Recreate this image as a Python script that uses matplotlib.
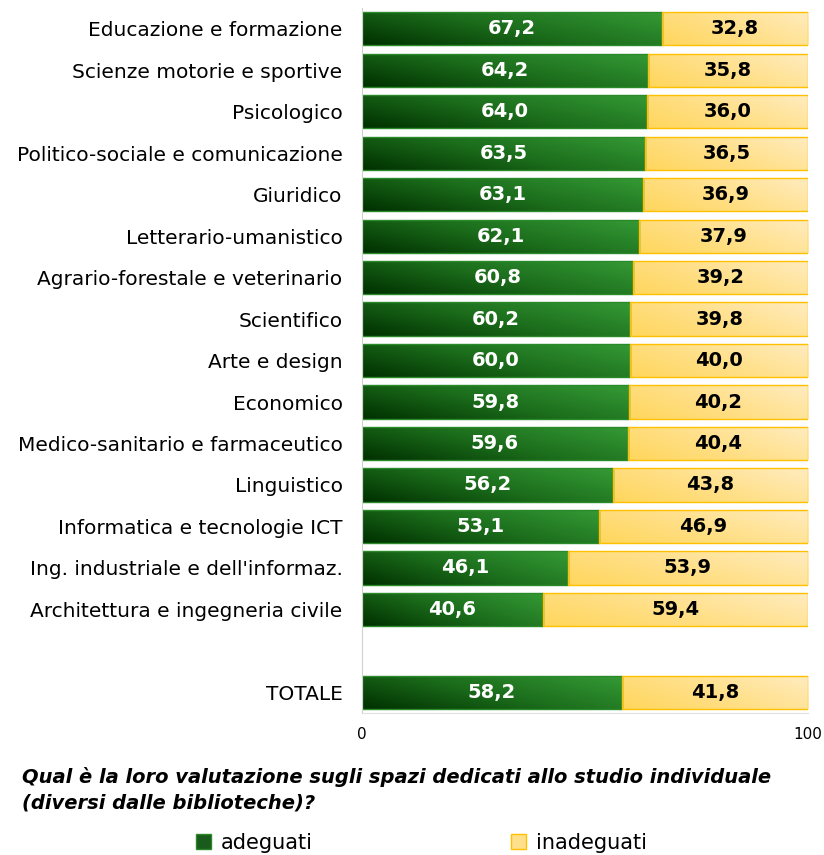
import numpy as np
import matplotlib.pyplot as plt
from matplotlib.colors import LinearSegmentedColormap
from matplotlib.patches import Patch

categories = [
    "Educazione e formazione", "Scienze motorie e sportive", "Psicologico",
    "Politico-sociale e comunicazione", "Giuridico", "Letterario-umanistico",
    "Agrario-forestale e veterinario", "Scientifico", "Arte e design",
    "Economico", "Medico-sanitario e farmaceutico", "Linguistico",
    "Informatica e tecnologie ICT", "Ing. industriale e dell'informaz.",
    "Architettura e ingegneria civile", "TOTALE"
]
adeguati = [67.2, 64.2, 64.0, 63.5, 63.1, 62.1, 60.8, 60.2, 60.0, 59.8,
            59.6, 56.2, 53.1, 46.1, 40.6, 58.2]
inadeguati = [32.8, 35.8, 36.0, 36.5, 36.9, 37.9, 39.2, 39.8, 40.0, 40.2,
              40.4, 43.8, 46.9, 53.9, 59.4, 41.8]

title = ("Qual è la loro valutazione sugli spazi dedicati allo studio individuale\n"
         "(diversi dalle biblioteche)?")

plt.rcParams['font.family'] = ['DejaVu Sans']

# slots: one empty row before TOTALE
pos = list(range(15)) + [16]

green_cmap = LinearSegmentedColormap.from_list("g", ["#003000", "#1c6e1c", "#359a35"])
yellow_cmap = LinearSegmentedColormap.from_list("y", ["#ffd65c", "#ffe08a", "#ffecc0"])

fig = plt.figure(figsize=(8.24, 8.55), dpi=100)
ax = fig.add_axes([0.4393, 0.166, 0.5413, 0.8246])

h = 0.8
b1 = ax.barh(pos, adeguati, height=h, color="none", edgecolor="#2a8a2a", linewidth=1)
b2 = ax.barh(pos, inadeguati, left=adeguati, height=h, color="none",
             edgecolor="#ffc000", linewidth=1)

# diagonal gradient fill for each bar
gy, gx = np.mgrid[0:1:32j, 0:1:128j]
grad = 0.65 * gx + 0.35 * (1 - gy)
for bars, cmap in ((b1, green_cmap), (b2, yellow_cmap)):
    for r in bars:
        x0, y0 = r.get_x(), r.get_y()
        w, hh = r.get_width(), r.get_height()
        im = ax.imshow(grad, cmap=cmap, extent=(x0, x0 + w, y0 + hh, y0),
                       aspect="auto", zorder=1, origin="upper")
        im.set_clip_path(r)
        r.set_zorder(2)

for p, a, i in zip(pos, adeguati, inadeguati):
    ax.text(a / 2, p, f"{a:.1f}".replace(".", ","), ha="center", va="center",
            color="white", fontsize=14, fontweight="bold", zorder=3)
    ax.text(a + i / 2, p, f"{i:.1f}".replace(".", ","), ha="center", va="center",
            color="black", fontsize=14, fontweight="bold", zorder=3)

ax.set_xlim(0, 100)
ax.set_ylim(16.5, -0.5)
ax.set_yticks(pos)
ax.set_yticklabels(categories, fontsize=14.5)
ax.set_xticks([0, 100])
ax.tick_params(axis="y", length=0, pad=14)
ax.tick_params(axis="x", length=0, labelsize=11, pad=10)
for s in ("top", "right"):
    ax.spines[s].set_visible(False)
ax.spines["left"].set_color("#d0d0d0")
ax.spines["bottom"].set_color("#e0e0e0")

fig.text(0.027, 0.05, title, fontsize=14, style="italic", fontweight="bold",
         va="bottom", linespacing=1.4)

handles = [Patch(facecolor="#1a5a1a", edgecolor="#2a8a2a", label="adeguati"),
           Patch(facecolor="#ffe08a", edgecolor="#ffc000", label="inadeguati")]
fig.legend(handles=handles, loc="center left", bbox_to_anchor=(0.238, 0.014),
           ncol=2, frameon=False, fontsize=15, handlelength=0.7,
           handleheight=0.7, columnspacing=9.5, handletextpad=0.5,
           borderpad=0, borderaxespad=0)

fig.savefig("out.png", dpi=100)
